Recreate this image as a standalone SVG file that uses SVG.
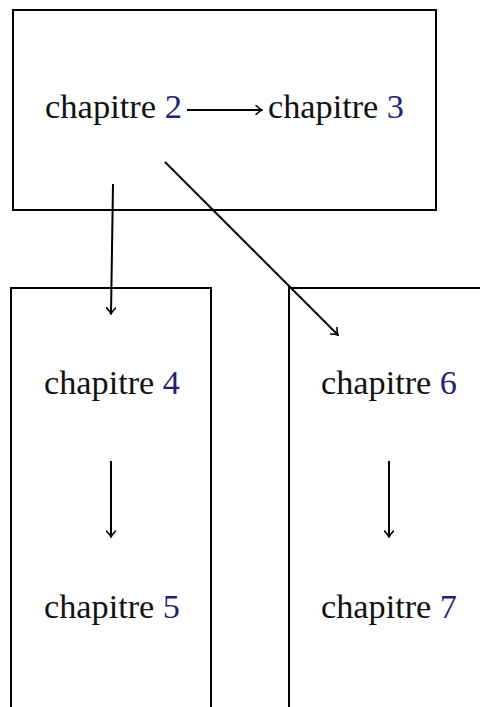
<svg xmlns="http://www.w3.org/2000/svg" width="480" height="707" viewBox="0 0 480 707">
  <style>
    .box { fill: none; stroke: #000; stroke-width: 2; }
    .lbl { font-family: "Liberation Serif", "DejaVu Serif", serif; font-size: 33px; fill: #111; }
    .num { fill: #1f1f7f; }
    .edge { fill: none; stroke: #000; stroke-width: 2; marker-end: url(#tip); }
  </style>
  <defs>
    <marker id="tip" viewBox="-6 -5 8 10" refX="1" refY="0" markerWidth="8" markerHeight="10" markerUnits="userSpaceOnUse" orient="auto">
      <path d="M -5,-4.5 Q -1.5,-1 1,0 Q -1.5,1 -5,4.5" fill="none" stroke="#000" stroke-width="1.6" stroke-linecap="round"/>
    </marker>
  </defs>

  <g id="group-top">
    <rect class="box" x="13" y="10" width="423" height="200"/>
  </g>
  <g id="group-left">
    <rect class="box" x="11" y="288" width="200" height="440"/>
  </g>
  <g id="group-right">
    <rect class="box" x="289" y="288" width="220" height="440"/>
  </g>

  <g id="ch2"><text class="lbl" x="45" y="118" textLength="137" lengthAdjust="spacingAndGlyphs">chapitre <tspan class="num">2</tspan></text></g>
  <g id="ch3"><text class="lbl" x="268" y="118" textLength="136" lengthAdjust="spacingAndGlyphs">chapitre <tspan class="num">3</tspan></text></g>
  <g id="ch4"><text class="lbl" x="44" y="394" textLength="136" lengthAdjust="spacingAndGlyphs">chapitre <tspan class="num">4</tspan></text></g>
  <g id="ch5"><text class="lbl" x="44" y="618" textLength="136" lengthAdjust="spacingAndGlyphs">chapitre <tspan class="num">5</tspan></text></g>
  <g id="ch6"><text class="lbl" x="321" y="394" textLength="136" lengthAdjust="spacingAndGlyphs">chapitre <tspan class="num">6</tspan></text></g>
  <g id="ch7"><text class="lbl" x="321" y="618" textLength="136" lengthAdjust="spacingAndGlyphs">chapitre <tspan class="num">7</tspan></text></g>

  <g id="connectors">
    <path class="edge" d="M 187,110 L 262,110"/>
    <path class="edge" d="M 113,184 L 111,314"/>
    <path class="edge" d="M 165,162 L 338,335"/>
    <path class="edge" d="M 111,461 L 111,537"/>
    <path class="edge" d="M 389,461 L 389,537"/>
  </g>
</svg>
